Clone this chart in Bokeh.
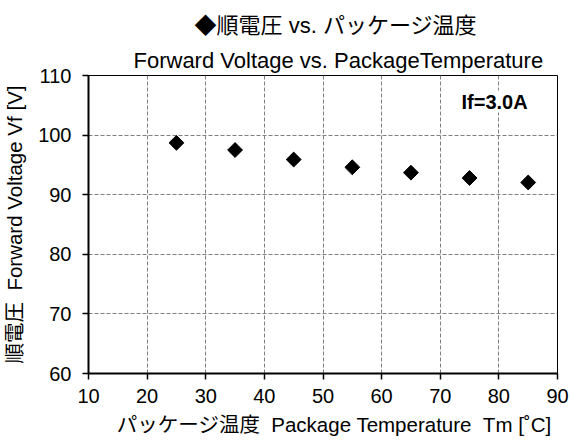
from bokeh.plotting import figure
from bokeh.models import Label, FixedTicker, Range1d, Title
from bokeh.embed import file_html
from bokeh.resources import INLINE
import math

# ---- data ----
temps = [25, 35, 45, 55, 65, 75, 85]
vf = [98.7, 97.5, 95.9, 94.6, 93.7, 92.8, 92.05]
x_ticks = [10, 20, 30, 40, 50, 60, 70, 80, 90]
y_ticks = [60, 70, 80, 90, 100, 110]

NB = "\u00a0"
title_line1 = "◆順電圧 vs. パッケージ温度"
title_line2 = "Forward Voltage vs. PackageTemperature"
xlabel = "パッケージ温度" + NB * 2 + "Package Temperature" + NB * 2 + "Tm [˚C]"
ylabel = "順電圧" + NB * 2 + "Forward Voltage Vf [V]"
cond_text = "If=3.0A"

FONT = "Liberation Sans, Noto Sans CJK JP"
EN = "Liberation Sans"

p = figure(width=571, height=442, output_backend="svg", toolbar_location=None,
           x_range=Range1d(10, 90), y_range=Range1d(60, 110),
           min_border_left=88, min_border_right=14, min_border_top=75, min_border_bottom=69)

p.background_fill_color = "white"
p.border_fill_color = "white"
p.outline_line_color = "black"
p.outline_line_width = 1

for ax, ticks in ((p.xaxis, x_ticks), (p.yaxis, y_ticks)):
    ax.ticker = FixedTicker(ticks=ticks)
    ax.axis_line_color = "black"
    ax.axis_line_width = 2
    ax.major_tick_line_color = "black"
    ax.major_tick_line_width = 1.5
    ax.major_tick_out = 6
    ax.major_tick_in = 0
    ax.minor_tick_line_color = None
    ax.major_label_text_font = EN
    ax.major_label_text_font_size = "20px"
    ax.major_label_text_color = "black"
    ax.axis_label_text_font = FONT
    ax.axis_label_text_font_style = "normal"
    ax.axis_label_text_color = "black"
p.yaxis.major_label_standoff = 11
p.xaxis.major_label_standoff = 9

p.xaxis.axis_label = NB * 4 + xlabel
p.xaxis.axis_label_text_font_size = "20.5px"
p.xaxis.axis_label_standoff = 7
p.yaxis.axis_label = ylabel
p.yaxis.axis_label_text_font_size = "20.5px"
p.yaxis.axis_label_standoff = 9

p.xgrid.ticker = FixedTicker(ticks=x_ticks)
p.ygrid.ticker = FixedTicker(ticks=y_ticks)
for g in (p.xgrid, p.ygrid):
    g.grid_line_color = "#808080"
    g.grid_line_dash = "4 2"
    g.grid_line_width = 1

p.scatter(temps, vf, marker="square", size=10.5, angle=math.pi / 4,
          fill_color="black", line_color="black")

# two-line title; block left edge placed by offset, first line indented
ttl = Title(text=NB * 10 + title_line1 + "\n" + title_line2,
            align="left", offset=45, text_font=FONT, text_font_size="22px",
            text_font_style="normal", text_color="black", standoff=5,
            text_line_height=1.4)
p.add_layout(ttl, "above")

# condition label (inside the frame)
cond = Label(x=373, y=272, x_units="screen", y_units="screen", text=cond_text,
             text_font=EN, text_font_size="20px", text_font_style="bold",
             text_baseline="middle", text_color="black", background_fill_color="white")
p.add_layout(cond)

open("out.html", "w").write(file_html(p, INLINE))
